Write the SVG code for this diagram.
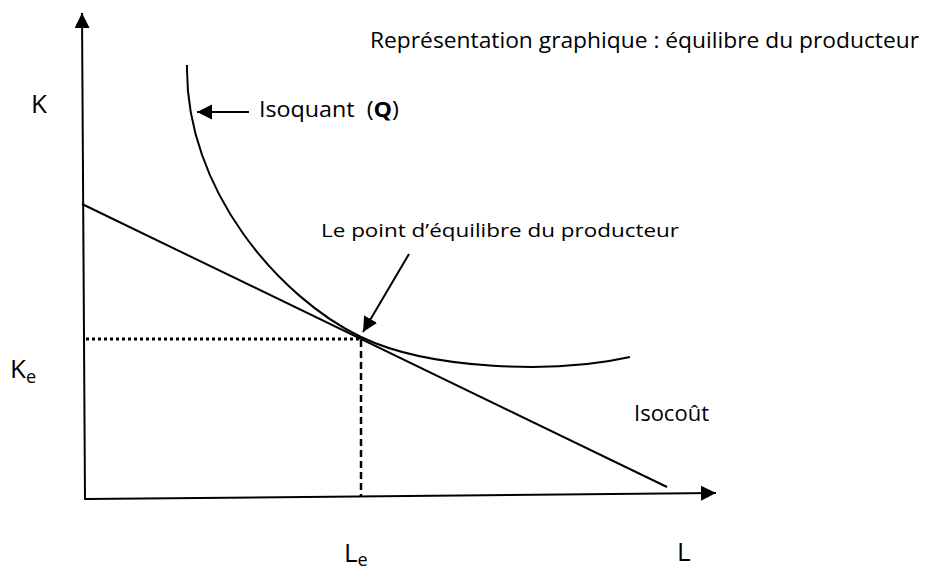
<svg xmlns="http://www.w3.org/2000/svg" width="928" height="572" viewBox="0 0 928 572">
<style>
text{font-family:"Open Sans","Liberation Sans",sans-serif;fill:#000}
.ln{stroke:#000;stroke-width:2;fill:none}
</style>
<defs>
<marker id="ah" markerUnits="userSpaceOnUse" markerWidth="16" markerHeight="16" refX="15" refY="7.5" orient="auto" viewBox="0 0 16 16">
<path d="M0,0 L15,7.5 L0,15 z" fill="#000"/>
</marker>
</defs>
<rect width="928" height="572" fill="#fff"/>
<g id="connectors">
<line class="ln" x1="85" y1="500" x2="82" y2="13" marker-end="url(#ah)"/>
<line class="ln" x1="86" y1="499" x2="716" y2="493" marker-end="url(#ah)"/>
<line class="ln" x1="82" y1="204" x2="667" y2="487"/>
<path class="ln" d="M187,65 C185,190 280,298 361,337 C430,370 555,374 630,357"/>
<line class="ln" x1="249" y1="112" x2="197" y2="112" marker-end="url(#ah)"/>
<line class="ln" x1="409" y1="254" x2="363" y2="332" marker-end="url(#ah)"/>
<line stroke="#000" stroke-width="3" stroke-dasharray="3 3" x1="86" y1="339" x2="361" y2="339"/>
<line stroke="#000" stroke-width="2.5" stroke-dasharray="7 4" x1="361" y1="340" x2="361" y2="497"/>
</g>
<g id="title"><text x="370" y="48" font-size="21" textLength="549" lengthAdjust="spacingAndGlyphs">Représentation graphique : équilibre du producteur</text></g>
<g id="label-K"><text x="31" y="113" font-size="26">K</text></g>
<g id="label-Ke"><text x="10" y="378" font-size="26">K<tspan font-size="18" dy="5">e</tspan></text></g>
<g id="label-Le"><text x="344" y="562" font-size="26">L<tspan font-size="18" dy="4">e</tspan></text></g>
<g id="label-L"><text x="677" y="561" font-size="26">L</text></g>
<g id="isoquant"><text x="259" y="117" font-size="22" xml:space="preserve" textLength="140" lengthAdjust="spacingAndGlyphs">Isoquant  (<tspan font-weight="bold">Q</tspan>)</text></g>
<g id="equilibrium"><text x="321" y="237" font-size="18" textLength="358" lengthAdjust="spacingAndGlyphs">Le point d’équilibre du producteur</text></g>
<g id="isocost"><text x="634" y="421" font-size="22">Isocoût</text></g>
</svg>
